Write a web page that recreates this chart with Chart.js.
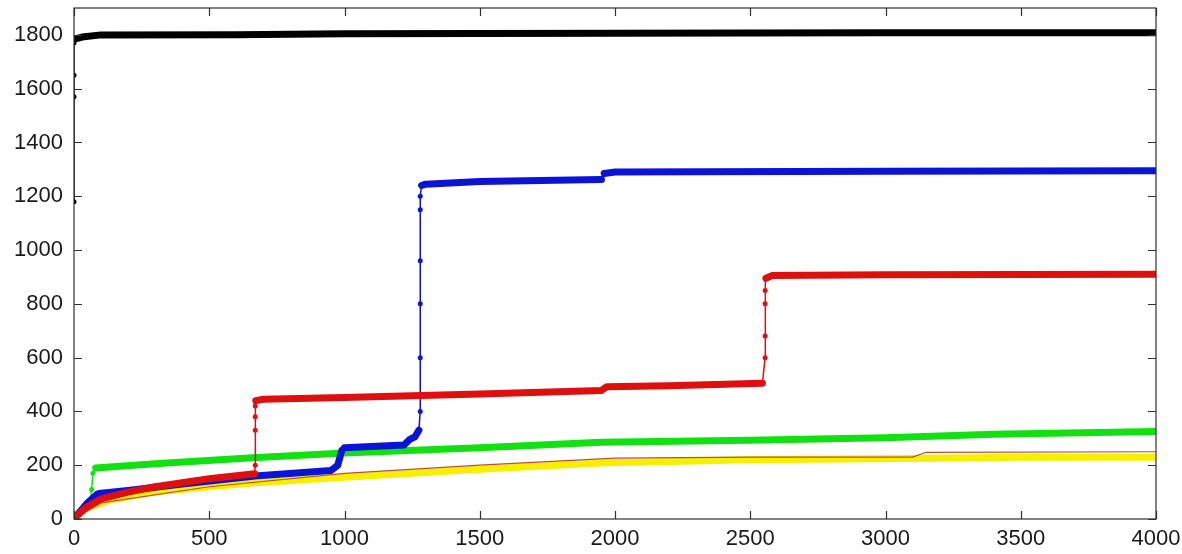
<!DOCTYPE html>
<html>
<head>
<meta charset="utf-8">
<script src="https://cdn.jsdelivr.net/npm/chart.js@4/dist/chart.umd.min.js"></script>
<style>
  html, body { margin: 0; padding: 0; background: #fff; }
  #wrap { width: 1182px; height: 554px; }
</style>
</head>
<body>
<div id="wrap"><canvas id="lineChart" width="1182" height="554"></canvas></div>
<script>
// x ticks and y ticks
const xTicks = [0, 500, 1000, 1500, 2000, 2500, 3000, 3500, 4000];
const yTicks = [0, 200, 400, 600, 800, 1000, 1200, 1400, 1600, 1800];

// series (x, y) read as step points
const blackX = [0, 0, 0, 0, 5, 30, 100, 600, 1000, 2000, 3000, 4000];
const blackY = [1180, 1570, 1650, 1770, 1785, 1792, 1800, 1801, 1804, 1806, 1808, 1808];

const blueX = [0, 50, 85, 100, 200, 400, 670, 950, 975, 990, 1000, 1220, 1240, 1260, 1275,
  1280, 1280, 1280, 1280, 1280, 1280, 1285, 1300, 1500, 1950, 1960, 2000, 3000, 4000];
const blueY = [0, 60, 92, 96, 106, 130, 160, 180, 200, 255, 265, 275, 295, 305, 330,
  400, 600, 800, 960, 1150, 1200, 1240, 1245, 1255, 1262, 1285, 1290, 1293, 1295];

const redX = [0, 40, 100, 200, 300, 400, 500, 668, 670, 670, 670, 670, 672, 700, 1000, 1500,
  1950, 1970, 2200, 2545, 2555, 2555, 2555, 2555, 2558, 2580, 3000, 4000];
const redY = [0, 40, 75, 100, 120, 135, 150, 168, 200, 330, 380, 420, 440, 445, 452, 465,
  478, 492, 495, 505, 600, 680, 800, 850, 895, 905, 908, 910];

const greenX = [0, 30, 60, 65, 70, 80, 300, 660, 1000, 1500, 1950, 2500, 3000, 3400, 4000];
const greenY = [0, 35, 60, 110, 170, 190, 205, 228, 245, 265, 285, 293, 302, 315, 325];

const yellowX = [0, 20, 60, 133, 300, 500, 662, 1000, 1500, 1945, 2500, 3175, 3500, 4000];
const yellowY = [0, 25, 45, 70, 100, 120, 134, 155, 185, 208, 220, 226, 230, 230];

const traceX = [0, 100, 500, 1000, 1500, 2000, 2500, 3100, 3150, 4000];
const traceY = [0, 60, 120, 170, 200, 226, 230, 230, 248, 250];

const toPoints = (xs, ys) => xs.map((x, i) => ({ x: x, y: ys[i] }));

// flat runs are dense markers -> thick band, jumps are thin line with dots
const bandWidth = ctx => Math.abs(ctx.p1.x - ctx.p0.x) > 3 ? 7 : 1.5;

function series(label, xs, ys, color, order) {
  return {
    label: label,
    data: toPoints(xs, ys),
    borderColor: color,
    backgroundColor: color,
    pointRadius: 2.5,
    pointBorderWidth: 0,
    pointHoverRadius: 2.5,
    borderJoinStyle: 'round',
    borderCapStyle: 'round',
    segment: { borderWidth: bandWidth },
    order: order
  };
}

// matlab style box with inward ticks on all four sides
const boxTicks = {
  id: 'boxTicks',
  afterDatasetsDraw(chart) {
    const { ctx, chartArea: a, scales: { x, y } } = chart;
    const len = 8;
    ctx.save();
    ctx.strokeStyle = '#303030';
    ctx.lineWidth = 1.2;
    ctx.strokeRect(a.left, a.top, a.right - a.left, a.bottom - a.top);
    ctx.beginPath();
    xTicks.forEach(v => {
      const px = Math.round(x.getPixelForValue(v)) + 0.5;
      ctx.moveTo(px, a.bottom); ctx.lineTo(px, a.bottom - len);
      ctx.moveTo(px, a.top); ctx.lineTo(px, a.top + len);
    });
    yTicks.forEach(v => {
      const py = Math.round(y.getPixelForValue(v)) + 0.5;
      ctx.moveTo(a.left, py); ctx.lineTo(a.left + len, py);
      ctx.moveTo(a.right, py); ctx.lineTo(a.right - len, py);
    });
    ctx.stroke();
    ctx.restore();
  }
};

const tickFont = { family: 'Liberation Sans, Arial, sans-serif', size: 22 };

// keep the plot box fixed; labels may hang past it
function fitX(s) {
  s.height = 35;
  s.paddingLeft = 0;
  s.paddingRight = 0;
}
function fitY(s) {
  s.width = 74;
  s.paddingTop = 0;
  s.paddingBottom = 0;
}

new Chart(document.getElementById('lineChart'), {
  type: 'line',
  data: {
    datasets: [
      series('black', blackX, blackY, '#000000', 1),
      series('blue', blueX, blueY, '#0c14d4', 3),
      series('red', redX, redY, '#de0f0f', 2),
      series('green', greenX, greenY, '#12e012', 5),
      {
        label: 'trace',
        data: toPoints(traceX, traceY),
        borderColor: '#c04a3a',
        borderWidth: 1.2,
        pointRadius: 0,
        order: 4
      },
      series('yellow', yellowX, yellowY, '#f6f000', 6)
    ]
  },
  options: {
    responsive: false,
    animation: false,
    events: [],
    layout: { padding: { top: 8, right: 26, left: 0, bottom: 0 } },
    plugins: { legend: { display: false }, tooltip: { enabled: false } },
    scales: {
      x: {
        type: 'linear',
        min: 0,
        max: 4000,
        grid: { display: false, drawTicks: false },
        border: { display: false },
        afterBuildTicks: s => { s.ticks = xTicks.map(v => ({ value: v })); },
        afterFit: fitX,
        ticks: {
          color: '#1a1a1a', font: tickFont, padding: 7, maxRotation: 0, autoSkip: false,
          callback: v => String(v)
        }
      },
      y: {
        type: 'linear',
        min: 0,
        max: 1900,
        grid: { display: false, drawTicks: false },
        border: { display: false },
        afterBuildTicks: s => { s.ticks = yTicks.map(v => ({ value: v })); },
        afterFit: fitY,
        ticks: {
          color: '#1a1a1a', font: tickFont, padding: 11, autoSkip: false,
          callback: v => String(v)
        }
      }
    }
  },
  plugins: [boxTicks]
});
</script>
</body>
</html>
